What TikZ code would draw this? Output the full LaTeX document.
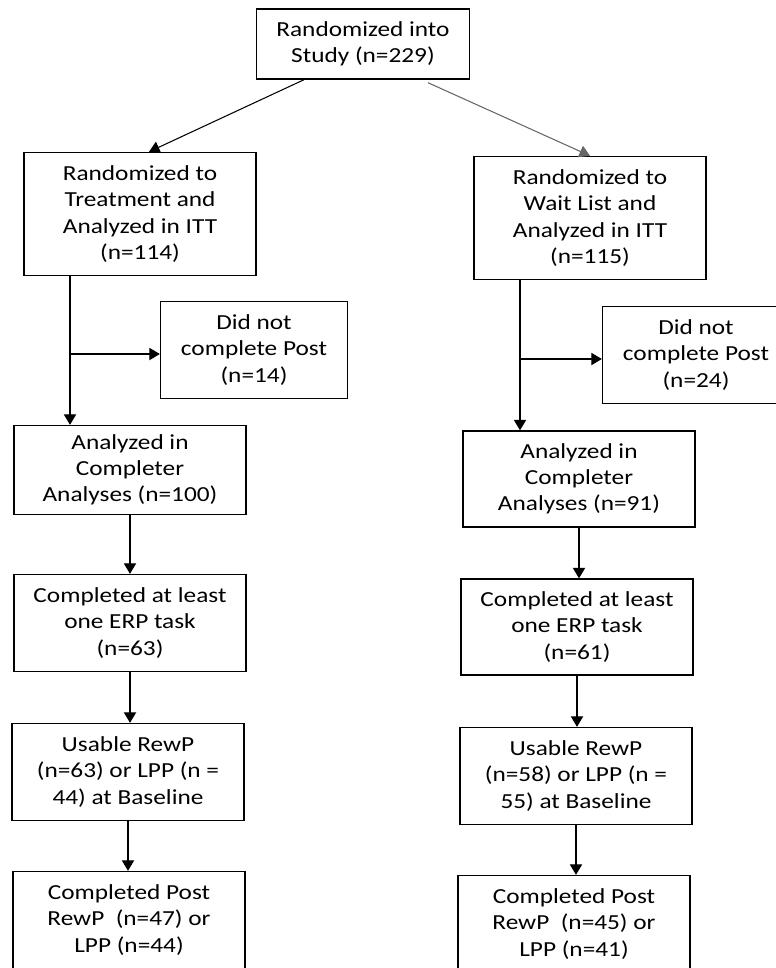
\documentclass[tikz,border=0pt]{standalone}
\usepackage{fontspec}
\setmainfont{Carlito}[FakeStretch=1.18]
\usetikzlibrary{arrows.meta}

\begin{document}
\begin{tikzpicture}[
    x=0.02cm, y=-0.02cm,
    font=\fontsize{12.2}{14.9}\selectfont,
    box/.style={rectangle, draw, line width=0.8pt, align=center, minimum width=4.64cm, inner sep=0pt},
    side/.style={box, minimum width=3.74cm, minimum height=1.93cm},
    arrow/.style={-{Triangle[width=7pt,length=6pt]}, line width=0.6pt}
]
\useasboundingbox (0,0) rectangle (776,968);
\clip (0,0) rectangle (776,968);

% Randomization
\node[box, minimum width=4.26cm, minimum height=1.4cm] (study) at (363,44) {Randomized into \\ Study (n=229)};
\node[box, minimum height=2.46cm] (treat) at (140,214) {Randomized to \\ Treatment and \\ Analyzed in ITT \\ (n=114)};
\node[box, minimum height=2.46cm] (wait) at (590,218) {Randomized to \\ Wait List and \\ Analyzed in ITT \\ (n=115)};

% Dropouts
\node[side] (dnc1) at (254,350) {Did not \\ complete Post \\ (n=14)};
\node[side] (dnc2) at (696,355) {Did not \\ complete Post \\ (n=24)};
\coordinate (tsplit) at (70,354);
\coordinate (wsplit) at (520,359);

% Treatment column
\node[box, minimum height=1.78cm] (an1) at (130,470) {Analyzed in \\ Completer \\ Analyses (n=100)};
\node[box, minimum height=1.94cm] (comp1) at (130,623) {Completed at least \\ one ERP task \\ (n=63)};
\node[box, minimum height=1.94cm] (use1) at (128,772) {Usable RewP \\ (n=63) or LPP (n = \\ 44) at Baseline};
\node[box, minimum height=1.94cm] (post1) at (129,920) {Completed Post \\ RewP\ \ (n=47) or \\ LPP (n=44)};

% Wait list column
\node[box, minimum height=1.92cm] (an2) at (579,479) {Analyzed in \\ Completer \\ Analyses (n=91)};
\node[box, minimum height=1.92cm] (comp2) at (577,627) {Completed at least \\ one ERP task \\ (n=61)};
\node[box, minimum height=1.94cm] (use2) at (576,776) {Usable RewP \\ (n=58) or LPP (n = \\ 55) at Baseline};
\node[box, minimum height=1.94cm] (post2) at (574,924) {Completed Post \\ RewP\ \ (n=45) or \\ LPP (n=41)};

% Arrows
\draw[arrow] ([xshift=-1.18cm]study.south) -- ([xshift=0.18cm]treat.north);
\draw[arrow, gray!80!black] ([xshift=1.3cm, yshift=-0.06cm]study.south) -- (wait.north);

\draw[arrow] (tsplit |- treat.south) -- (tsplit |- an1.north);
\draw[arrow] (tsplit) -- (tsplit -| dnc1.west);
\draw[arrow] (wsplit |- wait.south) -- (wsplit |- an2.north);
\draw[arrow] (wsplit) -- (wsplit -| dnc2.west);

\draw[arrow] (an1.south) -- (an1.south |- comp1.north);
\draw[arrow] (comp1.south) -- (comp1.south |- use1.north);
\draw[arrow] (use1.south) -- (use1.south |- post1.north);

\draw[arrow] (an2.south) -- (an2.south |- comp2.north);
\draw[arrow] (comp2.south) -- (comp2.south |- use2.north);
\draw[arrow] (use2.south) -- (use2.south |- post2.north);

\end{tikzpicture}
\end{document}
